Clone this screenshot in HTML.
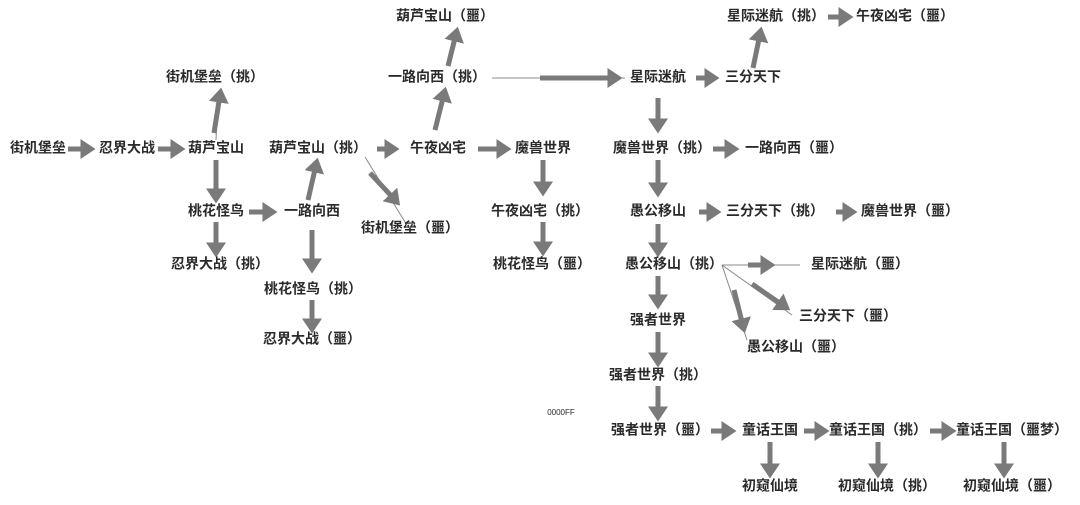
<!DOCTYPE html>
<html><head><meta charset="utf-8"><style>
html,body{margin:0;padding:0;background:#fff;}
svg{display:block}
text{font-family:"Liberation Sans","Noto Sans CJK SC",sans-serif;font-size:14px;font-weight:bold;fill:#2a2a2a;text-anchor:middle;dominant-baseline:middle}
.a{stroke:#7a7a7a;stroke-width:5;fill:none;marker-end:url(#h)}
.t{stroke:#888;stroke-width:1;fill:none}
</style></head><body>
<svg width="1080" height="505" viewBox="0 0 1080 505">
<defs><marker id="h" markerWidth="4" markerHeight="4" refX="1.5" refY="2" orient="auto" markerUnits="strokeWidth"><path d="M0,0 L3,2 L0,4 Z" fill="#7a7a7a"/></marker></defs>
<g>
<line class="t" x1="216" y1="140" x2="218" y2="92"/>
<line class="t" x1="365" y1="157" x2="405" y2="222"/>
<line class="t" x1="722" y1="265" x2="800" y2="265"/>
<line class="t" x1="722" y1="265" x2="792" y2="315"/>
<line class="t" x1="722" y1="265" x2="747" y2="340"/>
<line class="t" x1="492" y1="78" x2="625" y2="78"/>
</g>
<g>
<line class="a" x1="68" y1="149" x2="88" y2="149"/>
<line class="a" x1="158" y1="149" x2="178" y2="149"/>
<line class="a" x1="216" y1="160" x2="216" y2="196"/>
<line class="a" x1="214" y1="133" x2="220" y2="95"/>
<line class="a" x1="249" y1="212" x2="270" y2="212"/>
<line class="a" x1="216" y1="222" x2="216" y2="250"/>
<line class="a" x1="308" y1="200" x2="316" y2="165"/>
<line class="a" x1="312" y1="230" x2="312" y2="266"/>
<line class="a" x1="312" y1="300" x2="312" y2="326"/>
<line class="a" x1="377" y1="149" x2="392" y2="149"/>
<line class="a" x1="370" y1="173" x2="395" y2="200"/>
<line class="a" x1="435" y1="130" x2="444" y2="94"/>
<line class="a" x1="448" y1="66" x2="456" y2="34"/>
<line class="a" x1="478" y1="149" x2="504" y2="149"/>
<line class="a" x1="540" y1="78" x2="615" y2="78"/>
<line class="a" x1="543" y1="160" x2="543" y2="189"/>
<line class="a" x1="543" y1="222" x2="543" y2="249"/>
<line class="a" x1="696" y1="78" x2="712" y2="78"/>
<line class="a" x1="753" y1="68" x2="760" y2="34"/>
<line class="a" x1="828" y1="17" x2="846" y2="17"/>
<line class="a" x1="658" y1="98" x2="658" y2="126"/>
<line class="a" x1="713" y1="149" x2="732" y2="149"/>
<line class="a" x1="658" y1="160" x2="658" y2="190"/>
<line class="a" x1="699" y1="212" x2="714" y2="212"/>
<line class="a" x1="836" y1="212" x2="850" y2="212"/>
<line class="a" x1="658" y1="224" x2="658" y2="250"/>
<line class="a" x1="748" y1="265" x2="768" y2="265"/>
<line class="a" x1="752" y1="284" x2="784" y2="306"/>
<line class="a" x1="734" y1="290" x2="743" y2="326"/>
<line class="a" x1="658" y1="276" x2="658" y2="302"/>
<line class="a" x1="658" y1="332" x2="658" y2="360"/>
<line class="a" x1="658" y1="386" x2="658" y2="414"/>
<line class="a" x1="711" y1="431" x2="729" y2="431"/>
<line class="a" x1="804" y1="431" x2="822" y2="431"/>
<line class="a" x1="930" y1="431" x2="949" y2="431"/>
<line class="a" x1="770" y1="442" x2="770" y2="471"/>
<line class="a" x1="878" y1="442" x2="878" y2="471"/>
<line class="a" x1="1004" y1="442" x2="1004" y2="471"/>
</g>
<g>
<text x="38" y="149">街机堡垒</text>
<text x="127" y="149">忍界大战</text>
<text x="216" y="149">葫芦宝山</text>
<text x="215" y="78">街机堡垒（挑）</text>
<text x="216" y="212">桃花怪鸟</text>
<text x="220" y="265">忍界大战（挑）</text>
<text x="312" y="212">一路向西</text>
<text x="318" y="149">葫芦宝山（挑）</text>
<text x="313" y="290">桃花怪鸟（挑）</text>
<text x="312" y="340">忍界大战（噩）</text>
<text x="410" y="229">街机堡垒（噩）</text>
<text x="438" y="149">午夜凶宅</text>
<text x="437" y="78">一路向西（挑）</text>
<text x="445" y="17">葫芦宝山（噩）</text>
<text x="543" y="149">魔兽世界</text>
<text x="540" y="212">午夜凶宅（挑）</text>
<text x="542" y="265">桃花怪鸟（噩）</text>
<text x="658" y="78">星际迷航</text>
<text x="753" y="78">三分天下</text>
<text x="776" y="17">星际迷航（挑）</text>
<text x="905" y="17">午夜凶宅（噩）</text>
<text x="662" y="149">魔兽世界（挑）</text>
<text x="794" y="149">一路向西（噩）</text>
<text x="658" y="212">愚公移山</text>
<text x="775" y="212">三分天下（挑）</text>
<text x="910" y="212">魔兽世界（噩）</text>
<text x="674" y="265">愚公移山（挑）</text>
<text x="860" y="265">星际迷航（噩）</text>
<text x="848" y="317">三分天下（噩）</text>
<text x="796" y="348">愚公移山（噩）</text>
<text x="658" y="321">强者世界</text>
<text x="658" y="376">强者世界（挑）</text>
<text x="660" y="431">强者世界（噩）</text>
<text x="770" y="431">童话王国</text>
<text x="878" y="431">童话王国（挑）</text>
<text x="1012" y="431">童话王国（噩梦）</text>
<text x="770" y="487">初窥仙境</text>
<text x="887" y="487">初窥仙境（挑）</text>
<text x="1012" y="487">初窥仙境（噩）</text>
<text x="561" y="413" style="font-size:8px;font-weight:normal">0000FF</text>
</g>
</svg>
</body></html>
